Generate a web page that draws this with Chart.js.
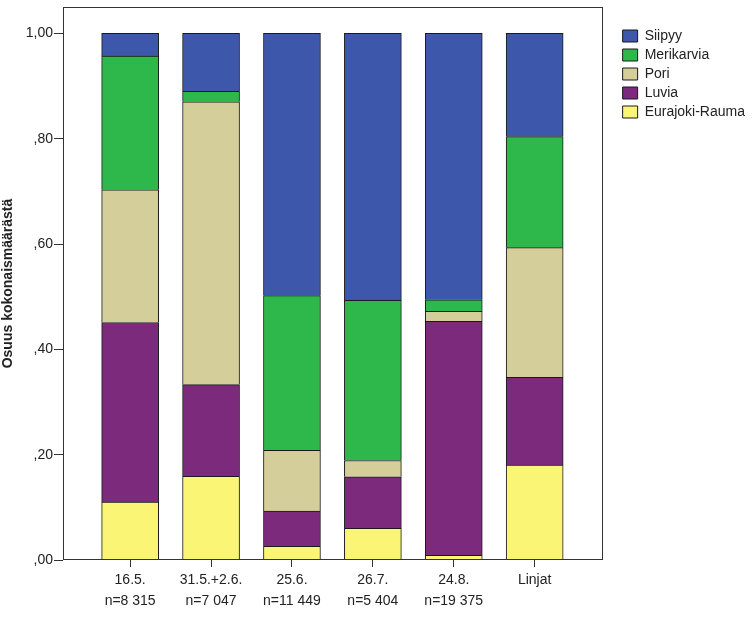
<!DOCTYPE html>
<html><head><meta charset="utf-8">
<script src="https://cdn.jsdelivr.net/npm/chart.js@4.4.1/dist/chart.umd.min.js"></script>
<style>html,body{margin:0;padding:0;background:#fff;} #wrap{width:755px;height:620px;}</style>
</head><body><div id="wrap"><canvas id="c" width="755" height="620"></canvas></div>
<script>
// ---- data ----
const categories = ['16.5.', '31.5.+2.6.', '25.6.', '26.7.', '24.8.', 'Linjat'];
const counts = ['n=8 315', 'n=7 047', 'n=11 449', 'n=5 404', 'n=19 375', ''];
const eurajokiRauma = [0.110, 0.159, 0.026, 0.060, 0.009, 0.180];
const luvia         = [0.341, 0.174, 0.067, 0.098, 0.444, 0.167];
const pori          = [0.252, 0.537, 0.115, 0.031, 0.019, 0.246];
const merikarvia    = [0.254, 0.020, 0.294, 0.304, 0.022, 0.211];
const siipyy        = [0.043, 0.110, 0.498, 0.507, 0.506, 0.196];
const yTickValues = [0, 0.2, 0.4, 0.6, 0.8, 1.0];

// ---- styling ----
Chart.defaults.font.family = "'Liberation Sans', Arial, sans-serif";
Chart.defaults.color = '#222';
const textColor = '#222';
const edge = '#1a1a1a';

function mk(label, values, color) {
  return {
    label: label,
    data: values.map((v, i) => ({x: i, y: v})),
    backgroundColor: color,
    borderColor: edge,
    borderWidth: {top: 1, left: 1, right: 1, bottom: 0},
    borderSkipped: false,
    barThickness: 57
  };
}

const framePlugin = {
  id: 'frame',
  afterDatasetsDraw(chart) {
    const {ctx, chartArea: a} = chart;
    ctx.save();
    ctx.strokeStyle = '#333';
    ctx.lineWidth = 1;
    const l = Math.round(a.left) + 0.5, t = Math.round(a.top) + 0.5;
    const r = Math.round(a.right) - 0.5, b = Math.round(a.bottom) - 0.5;
    ctx.strokeRect(l, t, r - l, b - t);
    ctx.restore();
  }
};

new Chart(document.getElementById('c'), {
  type: 'bar',
  data: {
    datasets: [
      mk('Eurajoki-Rauma', eurajokiRauma, '#FBF576'),
      mk('Luvia', luvia, '#7B2A7C'),
      mk('Pori', pori, '#D4CE9A'),
      mk('Merikarvia', merikarvia, '#2EB84B'),
      mk('Siipyy', siipyy, '#3D57AB')
    ]
  },
  options: {
    responsive: false,
    animation: false,
    layout: {padding: {top: 7, right: 0, bottom: 0, left: 0}},
    scales: {
      x: {
        type: 'linear',
        stacked: true,
        offset: false,
        min: -0.83,
        max: 5.84,
        afterBuildTicks(s) { s.ticks = categories.map((c, i) => ({value: i})); },
        afterFit(s) { s.height = 60; s.paddingLeft = 0; s.paddingRight = 0; },
        grid: {display: true, offset: false, drawOnChartArea: false, drawTicks: true, tickLength: 7, tickColor: '#333'},
        border: {display: false},
        ticks: {
          autoSkip: false,
          maxRotation: 0,
          padding: 3,
          color: textColor,
          font: {size: 14, lineHeight: 1.5},
          callback(v) {
            const i = Math.round(v);
            return counts[i] ? [categories[i], counts[i]] : [categories[i]];
          }
        }
      },
      y: {
        type: 'linear',
        stacked: true,
        min: 0,
        max: 1.05,
        afterBuildTicks(s) { s.ticks = yTickValues.map(v => ({value: v})); },
        afterFit(s) { s.width = 63; s.paddingTop = 0; s.paddingBottom = 0; },
        grid: {display: true, drawOnChartArea: false, drawTicks: true, tickLength: 9, tickColor: '#333'},
        border: {display: false},
        ticks: {
          padding: 1,
          color: textColor,
          font: {size: 14},
          callback(v) { return v.toFixed(2).replace('.', ',').replace(/^0/, ''); }
        },
        title: {
          display: true,
          text: 'Osuus kokonaismäärästä',
          color: textColor,
          font: {size: 14, weight: 'bold'},
          padding: {top: 0, bottom: 0}
        }
      },
      yR: {
        type: 'linear',
        position: 'right',
        display: true,
        grid: {display: false},
        border: {display: false},
        ticks: {display: false},
        afterFit(s) { s.width = 15; s.paddingTop = 0; s.paddingBottom = 0; }
      }
    },
    plugins: {
      tooltip: {enabled: false},
      legend: {
        position: 'right',
        align: 'start',
        reverse: true,
        maxWidth: 220,
        title: {display: true, text: '', padding: {top: 16, bottom: 0}, font: {size: 1, lineHeight: 1}},
        labels: {
          boxWidth: 15,
          boxHeight: 12,
          padding: 5,
          color: textColor,
          font: {size: 14},
          generateLabels(chart) {
            const items = Chart.defaults.plugins.legend.labels.generateLabels(chart);
            items.forEach(it => { it.lineWidth = 1; it.strokeStyle = edge; });
            return items;
          }
        }
      }
    }
  },
  plugins: [framePlugin]
});
</script>
</body></html>
